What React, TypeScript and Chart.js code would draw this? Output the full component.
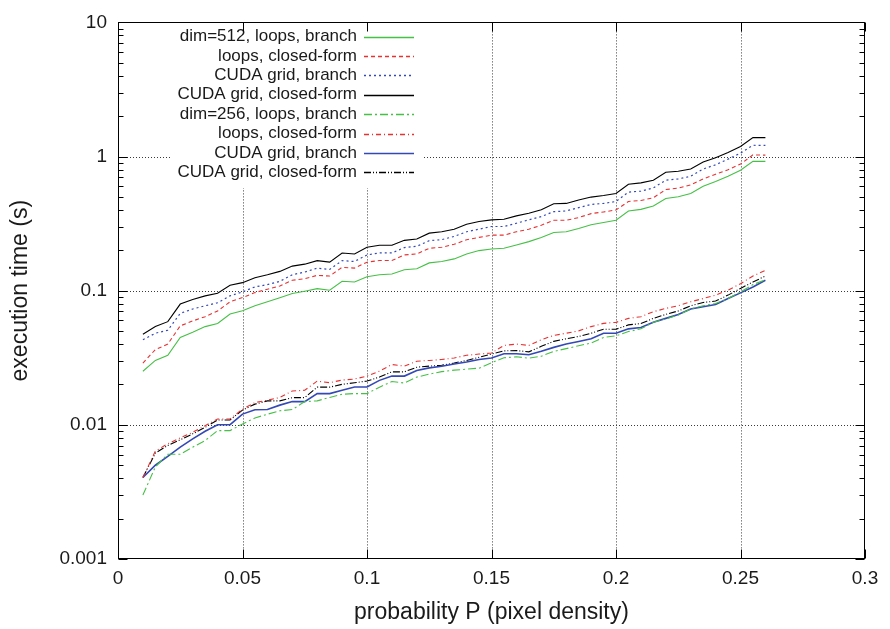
import React, { useEffect, useRef } from "react";
import { Chart, registerables } from "chart.js";

Chart.register(...registerables);

// probability P (pixel density)
const pValues = [
  0.01, 0.015, 0.02, 0.025, 0.03, 0.035, 0.04, 0.045, 0.05, 0.055,
  0.06, 0.065, 0.07, 0.075, 0.08, 0.085, 0.09, 0.095, 0.1, 0.105,
  0.11, 0.115, 0.12, 0.125, 0.13, 0.135, 0.14, 0.145, 0.15, 0.155,
  0.16, 0.165, 0.17, 0.175, 0.18, 0.185, 0.19, 0.195, 0.2, 0.205,
  0.21, 0.215, 0.22, 0.225, 0.23, 0.235, 0.24, 0.245, 0.25, 0.255, 0.26,
];

// dim=512
const d512LoopsBranch = [
  0.0251, 0.0302, 0.033, 0.0448, 0.049, 0.054, 0.0569, 0.0671, 0.0709, 0.0772,
  0.0827, 0.0885, 0.0952, 0.0992, 0.1036, 0.1009, 0.1175, 0.1161, 0.1271, 0.1315,
  0.1331, 0.1431, 0.1456, 0.1612, 0.1651, 0.1726, 0.1879, 0.1991, 0.2046, 0.2071,
  0.2191, 0.2321, 0.2496, 0.2718, 0.275, 0.2909, 0.3099, 0.3223, 0.335, 0.3931,
  0.4039, 0.428, 0.487, 0.5013, 0.5303, 0.6014, 0.6504, 0.7129, 0.7895, 0.9201, 0.9201,
];
const d512LoopsClosed = [
  0.0289, 0.0364, 0.04, 0.0547, 0.0595, 0.064, 0.0706, 0.0827, 0.0889, 0.0968,
  0.1026, 0.1085, 0.1195, 0.1228, 0.1302, 0.1286, 0.1494, 0.1474, 0.1632, 0.168,
  0.168, 0.1848, 0.1879, 0.2071, 0.2106, 0.2217, 0.2401, 0.2496, 0.2596, 0.2596,
  0.275, 0.2875, 0.3078, 0.335, 0.335, 0.3508, 0.3755, 0.3865, 0.3997, 0.4628,
  0.4708, 0.4929, 0.5677, 0.5813, 0.6149, 0.6809, 0.7375, 0.7977, 0.8789, 1.029, 1.024,
];
const d512CudaBranch = [
  0.0431, 0.0482, 0.0507, 0.0678, 0.073, 0.0772, 0.0813, 0.0915, 0.098, 0.1067,
  0.111, 0.1175, 0.1315, 0.1377, 0.1474, 0.1441, 0.1674, 0.1651, 0.1848, 0.1911,
  0.1911, 0.2096, 0.2142, 0.236, 0.2401, 0.254, 0.275, 0.2875, 0.301, 0.301,
  0.3184, 0.3374, 0.3568, 0.3885, 0.3931, 0.4157, 0.4398, 0.4473, 0.4628, 0.5431,
  0.5524, 0.5843, 0.666, 0.6809, 0.7129, 0.8071, 0.8685, 0.9567, 1.06, 1.214, 1.21,
];
const d512CudaClosed = [
  0.0474, 0.054, 0.0588, 0.0795, 0.086, 0.0915, 0.0958, 0.1098, 0.1148, 0.1249,
  0.1315, 0.1393, 0.1525, 0.1577, 0.1674, 0.1632, 0.1911, 0.1879, 0.2106, 0.2179,
  0.2179, 0.2373, 0.2426, 0.2686, 0.275, 0.2875, 0.3131, 0.3278, 0.3374, 0.3408,
  0.3611, 0.3774, 0.4018, 0.445, 0.4473, 0.474, 0.4987, 0.5125, 0.5303, 0.6222,
  0.6361, 0.666, 0.7631, 0.7762, 0.8071, 0.9091, 0.978, 1.072, 1.187, 1.384, 1.384,
];

// dim=256
const d256LoopsBranch = [
  0.003, 0.00486, 0.00603, 0.00603, 0.00682, 0.00764, 0.00906, 0.00906, 0.01015, 0.01125,
  0.012, 0.01273, 0.013, 0.0149, 0.0151, 0.016, 0.01691, 0.0171, 0.0171, 0.0191,
  0.02103, 0.0205, 0.0227, 0.02388, 0.02492, 0.02557, 0.026, 0.02645, 0.02904, 0.0316,
  0.0322, 0.0314, 0.0325, 0.0353, 0.037, 0.0389, 0.0407, 0.0448, 0.0461, 0.0496,
  0.052, 0.0581, 0.0616, 0.0659, 0.073, 0.0772, 0.0803, 0.0874, 0.098, 0.111, 0.1208,
];
const d256LoopsClosed = [
  0.00405, 0.00637, 0.00723, 0.008, 0.0088, 0.00986, 0.01106, 0.01106, 0.0131, 0.01466,
  0.01527, 0.016, 0.01789, 0.0181, 0.0212, 0.0206, 0.02158, 0.02195, 0.0231, 0.02514,
  0.02816, 0.0274, 0.0298, 0.0302, 0.0307, 0.0315, 0.033, 0.0337, 0.0343, 0.0391,
  0.04, 0.0391, 0.0431, 0.0464, 0.0482, 0.0502, 0.054, 0.0571, 0.0581, 0.0622,
  0.064, 0.0697, 0.0738, 0.0772, 0.0827, 0.0874, 0.0927, 0.1009, 0.1128, 0.1286, 0.1417,
];
const d256CudaBranch = [
  0.00405, 0.005, 0.00582, 0.00682, 0.00787, 0.00895, 0.01003, 0.01003, 0.01203, 0.01295,
  0.01302, 0.01403, 0.01491, 0.01491, 0.01709, 0.01709, 0.0181, 0.01914, 0.01914, 0.02146,
  0.02309, 0.02309, 0.02543, 0.02658, 0.02736, 0.02845, 0.02944, 0.03066, 0.03151, 0.03385,
  0.03385, 0.03329, 0.03532, 0.0378, 0.04, 0.04186, 0.04383, 0.0482, 0.0482, 0.05195,
  0.05311, 0.05813, 0.06219, 0.06658, 0.073, 0.07595, 0.0789, 0.08744, 0.09632, 0.1067, 0.1195,
];
const d256CudaClosed = [
  0.00405, 0.00616, 0.00702, 0.00774, 0.00857, 0.00958, 0.01087, 0.01087, 0.01288, 0.01427,
  0.01509, 0.01509, 0.01596, 0.01596, 0.0191, 0.0191, 0.02004, 0.0206, 0.0212, 0.0227,
  0.02484, 0.02484, 0.0269, 0.0274, 0.0278, 0.0289, 0.0302, 0.0319, 0.0337, 0.0356,
  0.0358, 0.035, 0.0385, 0.0419, 0.0438, 0.0456, 0.0482, 0.0516, 0.0516, 0.0556,
  0.0569, 0.0622, 0.0666, 0.0706, 0.0772, 0.0817, 0.0837, 0.0927, 0.104, 0.1161, 0.1286,
];

const seriesLabels = [
  "dim=512, loops, branch",
  "loops, closed-form",
  "CUDA grid, branch",
  "CUDA grid, closed-form",
  "dim=256, loops, branch",
  "loops, closed-form",
  "CUDA grid, branch",
  "CUDA grid, closed-form",
];

const xTickValues = [0, 0.05, 0.1, 0.15, 0.2, 0.25, 0.3];
const yTickValues = [0.001, 0.01, 0.1, 1, 10];

const FONT = "'Liberation Sans', Arial, Helvetica, sans-serif";
const TEXT = "#1a1a1a";
const GREEN = "#46c046";
const RED = "#e83232";
const BLUE = "#3349b5";
const BLACK = "#000000";

const styles = [
  { color: GREEN, dash: [] as number[], width: 1.1 },
  { color: RED, dash: [4, 3], width: 1.1 },
  { color: BLUE, dash: [2, 3], width: 1.2 },
  { color: BLACK, dash: [] as number[], width: 1.1 },
  { color: GREEN, dash: [8, 3, 2, 3], width: 1.1 },
  { color: RED, dash: [5, 3, 1, 3], width: 1.1 },
  { color: BLUE, dash: [] as number[], width: 1.6 },
  { color: BLACK, dash: [7, 2, 1, 2, 1, 2], width: 1.1 },
];

const seriesValues = [
  d512LoopsBranch,
  d512LoopsClosed,
  d512CudaBranch,
  d512CudaClosed,
  d256LoopsBranch,
  d256LoopsClosed,
  d256CudaBranch,
  d256CudaClosed,
];

const framePlugin = {
  id: "gnuplotFrame",
  beforeDatasetsDraw(chart: any) {
    const { ctx, chartArea: a, scales } = chart;
    const x = scales.x;
    const y = scales.y;
    ctx.save();
    ctx.strokeStyle = "#3a3a3a";
    ctx.lineWidth = 1;
    ctx.setLineDash([1, 2]);
    for (const v of xTickValues) {
      if (v === 0 || v === 0.3) continue;
      const px = Math.round(x.getPixelForValue(v)) + 0.5;
      ctx.beginPath();
      ctx.moveTo(px, a.top);
      ctx.lineTo(px, a.bottom);
      ctx.stroke();
    }
    for (const v of yTickValues) {
      if (v === 0.001 || v === 10) continue;
      const py = Math.round(y.getPixelForValue(v)) + 0.5;
      ctx.beginPath();
      ctx.moveTo(a.left, py);
      ctx.lineTo(a.right, py);
      ctx.stroke();
    }
    ctx.restore();
  },
  afterDatasetsDraw(chart: any) {
    const { ctx, chartArea: a, scales } = chart;
    const x = scales.x;
    const y = scales.y;
    // legend (key) area
    const rowY0 = 36.5;
    const rowStep = 19.4;
    const textRight = 357;
    const sampleL = 364;
    const sampleR = 414;
    ctx.save();
    ctx.fillStyle = "#ffffff";
    ctx.fillRect(170, 26, 252, 162);
    ctx.font = `17px ${FONT}`;
    ctx.textAlign = "right";
    ctx.textBaseline = "middle";
    seriesLabels.forEach((label, i) => {
      const ry = rowY0 + i * rowStep;
      ctx.fillStyle = TEXT;
      ctx.fillText(label, textRight, ry);
      ctx.strokeStyle = styles[i].color;
      ctx.lineWidth = Math.max(1.3, styles[i].width);
      ctx.setLineDash(styles[i].dash);
      ctx.beginPath();
      ctx.moveTo(sampleL, Math.round(ry) + 0.5);
      ctx.lineTo(sampleR, Math.round(ry) + 0.5);
      ctx.stroke();
    });
    ctx.setLineDash([]);

    // border
    const L = Math.round(a.left) + 0.5;
    const R = Math.round(a.right) - 0.5;
    const T = Math.round(a.top) + 0.5;
    const B = Math.round(a.bottom) - 0.5;
    ctx.strokeStyle = "#000";
    ctx.lineWidth = 1;
    ctx.strokeRect(L, T, R - L, B - T);

    // x ticks (inward, bottom and top)
    ctx.beginPath();
    for (const v of xTickValues) {
      const px = Math.round(x.getPixelForValue(v)) + 0.5;
      ctx.moveTo(px, B);
      ctx.lineTo(px, B - 9);
      ctx.moveTo(px, T);
      ctx.lineTo(px, T + 9);
    }
    // y ticks major + minor
    for (let d = 0; d < yTickValues.length; d++) {
      const dec = yTickValues[d];
      const py = Math.round(y.getPixelForValue(dec)) + 0.5;
      ctx.moveTo(L, py);
      ctx.lineTo(L + 9, py);
      ctx.moveTo(R, py);
      ctx.lineTo(R - 9, py);
      if (d < yTickValues.length - 1) {
        for (let m = 2; m <= 9; m++) {
          const pm = Math.round(y.getPixelForValue(dec * m)) + 0.5;
          ctx.moveTo(L, pm);
          ctx.lineTo(L + 5, pm);
          ctx.moveTo(R, pm);
          ctx.lineTo(R - 5, pm);
        }
      }
    }
    ctx.stroke();
    ctx.restore();
  },
};

export default function App() {
  const canvasRef = useRef<HTMLCanvasElement | null>(null);

  useEffect(() => {
    const canvas = canvasRef.current;
    if (!canvas) return;
    const datasets = seriesValues.map((vals, i) => ({
      label: seriesLabels[i],
      data: pValues.map((p, j) => ({ x: p, y: vals[j] })),
      borderColor: styles[i].color,
      backgroundColor: styles[i].color,
      borderWidth: styles[i].width,
      borderDash: styles[i].dash,
      pointRadius: 0,
      tension: 0,
      fill: false,
    }));

    const chart = new Chart(canvas, {
      type: "line",
      data: { datasets },
      options: {
        animation: false,
        responsive: false,
        devicePixelRatio: 1,
        layout: { padding: { top: 18, right: 25, left: 0, bottom: 0 } },
        plugins: {
          legend: { display: false },
          tooltip: { enabled: false },
        },
        scales: {
          x: {
            type: "linear",
            min: 0,
            max: 0.3,
            afterBuildTicks: (s: any) => {
              s.ticks = xTickValues.map((v) => ({ value: v }));
            },
            afterFit: (s: any) => {
              s.height = 70;
            },
            grid: { display: false, drawTicks: false },
            border: { display: false },
            ticks: {
              color: TEXT,
              font: { family: FONT, size: 19 },
              padding: 8,
              maxRotation: 0,
              autoSkip: false,
              callback: (v: any) => String(v),
            },
            title: {
              display: true,
              text: "probability P (pixel density)",
              color: TEXT,
              font: { family: FONT, size: 23 },
              padding: { top: 0, bottom: 3 },
            },
          },
          y: {
            type: "logarithmic",
            min: 0.001,
            max: 10,
            afterBuildTicks: (s: any) => {
              s.ticks = yTickValues.map((v) => ({ value: v }));
            },
            afterFit: (s: any) => {
              s.width = 118;
            },
            grid: { display: false, drawTicks: false },
            border: { display: false },
            ticks: {
              color: TEXT,
              font: { family: FONT, size: 19 },
              padding: 11,
              autoSkip: false,
              callback: (v: any) => String(v),
            },
            title: {
              display: true,
              text: "execution time (s)",
              color: TEXT,
              font: { family: FONT, size: 23 },
              padding: { top: 7, bottom: 0 },
            },
          },
        },
      },
      plugins: [framePlugin],
    });
    return () => chart.destroy();
  }, []);

  return (
    <div style={{ position: "absolute", left: 0, top: 0, width: 890, height: 629, background: "#fff" }}>
      <canvas ref={canvasRef} width={890} height={629} style={{ display: "block" }} />
    </div>
  );
}
